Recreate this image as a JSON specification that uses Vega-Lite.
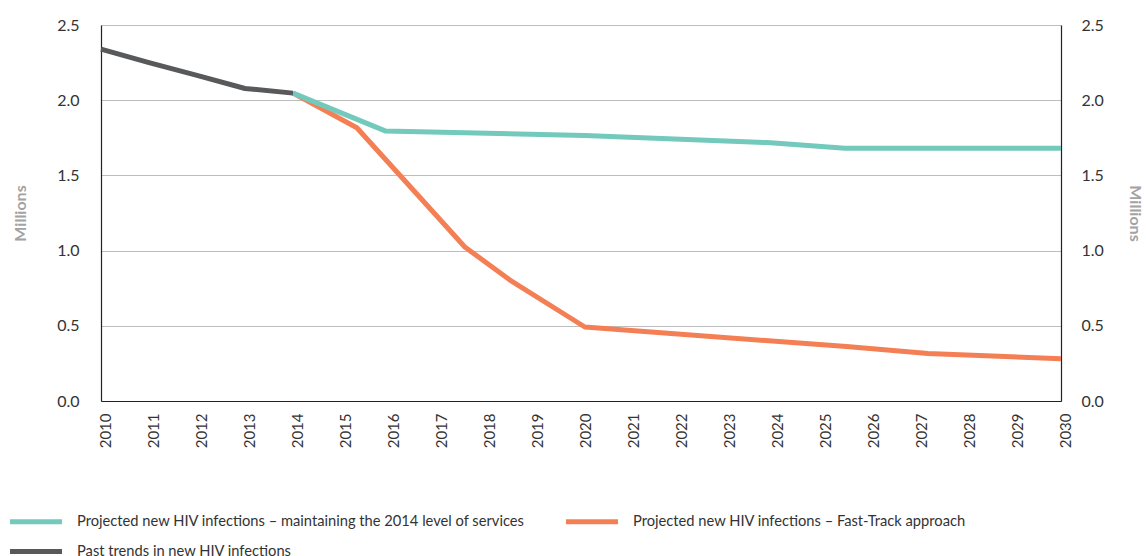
{
  "$schema": "https://vega.github.io/schema/vega-lite/v6.json",
  "autosize": {"type": "none"},
  "width": 960,
  "height": 376,
  "padding": {"left": 101, "top": 25, "right": 85, "bottom": 155},
  "background": "white",
  "config": {
    "font": "Lato",
    "view": {"stroke": null},
    "axis": {"labelFont": "Lato", "titleFont": "Lato"},
    "legend": {"labelFont": "Lato"}
  },
  "data": {
    "values": [
      {"series": "Projected new HIV infections – Fast-Track approach", "year": 2014, "value": 2.047},
      {"series": "Projected new HIV infections – Fast-Track approach", "year": 2015.33, "value": 1.817},
      {"series": "Projected new HIV infections – Fast-Track approach", "year": 2017.58, "value": 1.024},
      {"series": "Projected new HIV infections – Fast-Track approach", "year": 2018.52, "value": 0.804},
      {"series": "Projected new HIV infections – Fast-Track approach", "year": 2020.08, "value": 0.492},
      {"series": "Projected new HIV infections – Fast-Track approach", "year": 2025.53, "value": 0.362},
      {"series": "Projected new HIV infections – Fast-Track approach", "year": 2027.23, "value": 0.316},
      {"series": "Projected new HIV infections – Fast-Track approach", "year": 2030, "value": 0.281},
      {"series": "Projected new HIV infections – maintaining the 2014 level of services", "year": 2014, "value": 2.047},
      {"series": "Projected new HIV infections – maintaining the 2014 level of services", "year": 2015.92, "value": 1.796},
      {"series": "Projected new HIV infections – maintaining the 2014 level of services", "year": 2020.08, "value": 1.765},
      {"series": "Projected new HIV infections – maintaining the 2014 level of services", "year": 2023.88, "value": 1.718},
      {"series": "Projected new HIV infections – maintaining the 2014 level of services", "year": 2025.5, "value": 1.681},
      {"series": "Projected new HIV infections – maintaining the 2014 level of services", "year": 2030, "value": 1.681},
      {"series": "Past trends in new HIV infections", "year": 2010, "value": 2.34},
      {"series": "Past trends in new HIV infections", "year": 2011, "value": 2.25},
      {"series": "Past trends in new HIV infections", "year": 2012, "value": 2.165},
      {"series": "Past trends in new HIV infections", "year": 2013, "value": 2.078},
      {"series": "Past trends in new HIV infections", "year": 2014, "value": 2.047}
    ]
  },
  "encoding": {
    "x": {
      "field": "year",
      "type": "quantitative",
      "scale": {"domain": [2010, 2030], "nice": false, "zero": false},
      "axis": {
        "title": null,
        "values": [2010, 2011, 2012, 2013, 2014, 2015, 2016, 2017, 2018, 2019, 2020, 2021, 2022, 2023, 2024, 2025, 2026, 2027, 2028, 2029, 2030],
        "format": "d",
        "labelAngle": -90,
        "labelFontSize": 15,
        "labelColor": "#333333",
        "labelPadding": 12,
        "labelOffset": 4,
        "ticks": false,
        "grid": false,
        "domainColor": "#222222",
        "domainWidth": 1.2
      }
    },
    "y": {
      "field": "value",
      "type": "quantitative",
      "scale": {"domain": [0, 2.5], "nice": false}
    }
  },
  "layer": [
    {
      "mark": {"type": "line", "strokeWidth": 5, "strokeCap": "butt", "strokeJoin": "round"},
      "encoding": {
        "y": {
          "field": "value",
          "type": "quantitative",
          "axis": {
            "orient": "left",
            "title": "Millions",
            "titleFontSize": 16,
            "titleFontWeight": "bold",
            "titleColor": "#a3a3a3",
            "titlePadding": 28,
            "values": [0, 0.5, 1, 1.5, 2, 2.5],
            "format": ".1f",
            "labelFontSize": 16,
            "labelColor": "#333333",
            "labelPadding": 22,
            "ticks": false,
            "grid": true,
            "gridColor": "#bdbdbd",
            "gridWidth": 1,
            "domainColor": "#222222",
            "domainWidth": 1.2
          }
        },
        "color": {
          "field": "series",
          "type": "nominal",
          "scale": {
            "domain": [
              "Projected new HIV infections – maintaining the 2014 level of services",
              "Projected new HIV infections – Fast-Track approach",
              "Past trends in new HIV infections"
            ],
            "range": ["#72c9bc", "#f47f54", "#58595b"]
          },
          "legend": {
            "title": null,
            "orient": "none",
            "legendX": -80.5,
            "legendY": 481,
            "padding": 0,
            "direction": "horizontal",
            "columns": 2,
            "symbolType": "M-2,0H2",
            "symbolStrokeWidth": 5,
            "symbolSize": 676,
            "labelFontSize": 14.7,
            "labelColor": "#333333",
            "labelOffset": 25.5,
            "labelLimit": 600,
            "columnPadding": 30,
            "rowPadding": 4
          }
        }
      }
    },
    {
      "mark": {"type": "line", "strokeWidth": 0, "opacity": 0},
      "encoding": {
        "y": {
          "field": "value",
          "type": "quantitative",
          "axis": {
            "orient": "right",
            "title": "Millions",
            "titleFontSize": 16,
            "titleFontWeight": "bold",
            "titleColor": "#a3a3a3",
            "titlePadding": 23,
            "values": [0, 0.5, 1, 1.5, 2, 2.5],
            "format": ".1f",
            "labelFontSize": 16,
            "labelColor": "#333333",
            "labelPadding": 20,
            "ticks": false,
            "grid": false,
            "domainColor": "#222222",
            "domainWidth": 1.2
          }
        },
        "detail": {"field": "series", "type": "nominal"}
      }
    }
  ],
  "resolve": {"axis": {"y": "independent"}}
}
